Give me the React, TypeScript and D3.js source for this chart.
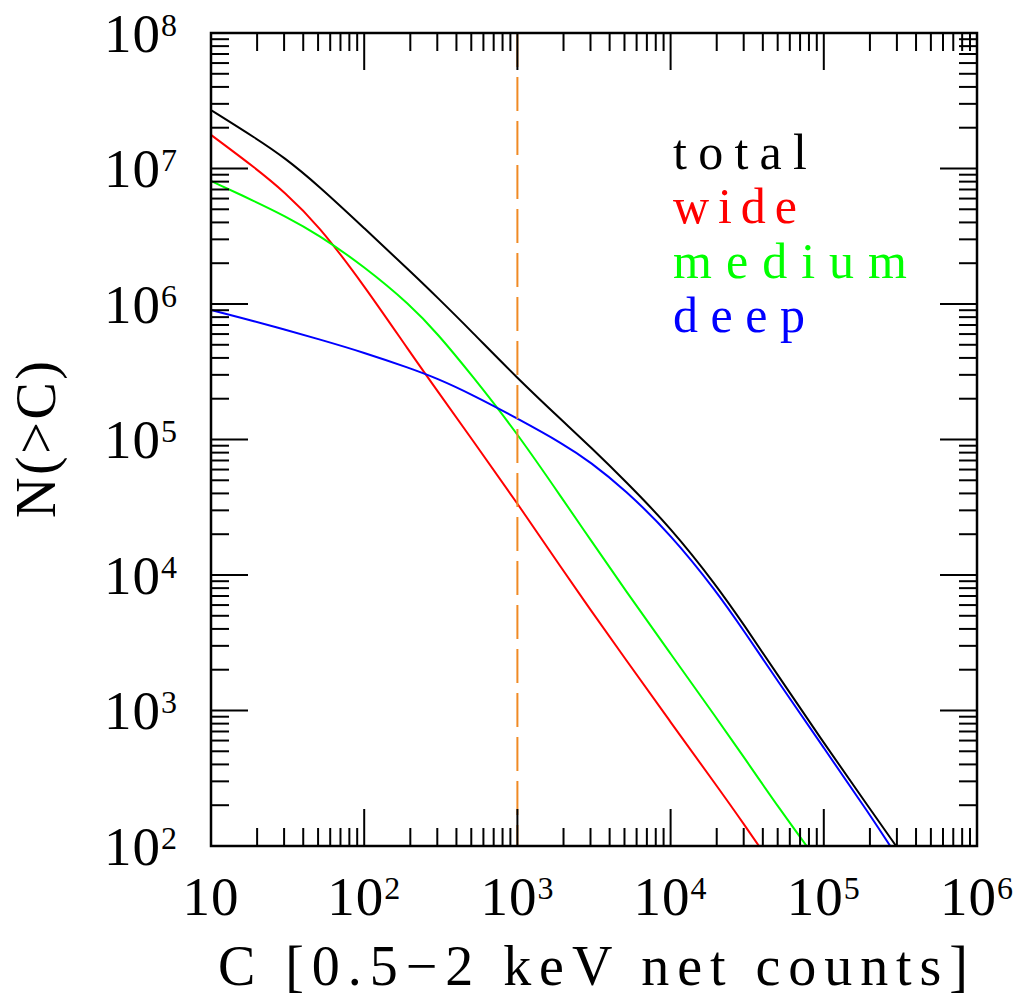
import React from 'react'
import * as d3 from 'd3'

// counts threshold C [0.5-2 keV net counts]
const counts = [10, 20, 30, 50, 100, 200, 300, 500, 1e3, 2e3, 3e3, 5e3, 1e4, 2e4, 3e4, 5e4, 1e5, 2e5, 3e5]

// N(>C)
const total = [2.7e7, 1.65e7, 1.21e7, 7.53e6, 3.63e6, 1.74e6, 1.12e6, 6.31e5, 2.83e5, 1.35e5, 8.81e4, 5.01e4, 2.24e4, 8.32e3, 4.32e3, 1.83e3, 575, 188, 98]
const wide = [1.77e7, 9.86e6, 6.75e6, 3.85e6, 1.37e6, 4.37e5, 2.29e5, 1.02e5, 3.38e4, 1.07e4, 5.52e3, 2.45e3, 820, 278, 146, 63]
const medium = [8.09e6, 5.62e6, 4.49e6, 3.27e6, 1.89e6, 9.84e5, 6.07e5, 3.02e5, 1.11e5, 3.55e4, 1.82e4, 7.89e3, 2.62e3, 875, 455, 196, 67]
const deep = [9.04e5, 7.36e5, 6.5e5, 5.52e5, 4.38e5, 3.35e5, 2.82e5, 2.16e5, 1.43e5, 9.25e4, 6.82e4, 4.29e4, 2.0e4, 7.53e3, 3.89e3, 1.65e3, 530, 170, 84]

const seriesNames = ['total', 'wide', 'medium', 'deep']
const seriesColors = ['#000000', '#ff0000', '#00ff00', '#0000ff']
const seriesValues = [total, wide, medium, deep]
const legendWidths = [134, 124, 234, 132]

const cutCounts = 1000 // dashed vertical marker

const xLabel = 'C [0.5\u22122 keV net counts]'
const yLabel = 'N(>C)'

const FONT = '"Liberation Serif", "Times New Roman", serif'

export default function App() {
  const left = 211
  const right = 977
  const top = 33
  const bottom = 846

  const x = d3.scaleLog().domain([10, 1e6]).range([left, right])
  const y = d3.scaleLog().domain([1e2, 1e8]).range([bottom, top])

  const isMajor = (v: number) => Math.abs(Math.log10(v) - Math.round(Math.log10(v))) < 1e-9

  const xTicks = x.ticks()
  const yTicks = y.ticks()

  const line = d3
    .line<[number, number]>()
    .x((d) => x(d[0]))
    .y((d) => y(d[1]))
    .curve(d3.curveBasis)

  const major = 37
  const minor = 18

  return (
    <svg
      width={1024}
      height={999}
      style={{ position: 'absolute', left: 0, top: 0, background: '#fff' }}
      fontFamily={FONT}
    >
      <defs>
        <clipPath id="plot-area">
          <rect x={left} y={top} width={right - left} height={bottom - top} />
        </clipPath>
      </defs>

      {/* curves */}
      <g clipPath="url(#plot-area)" fill="none" strokeWidth={2}>
        {seriesValues.map((vals, i) => (
          <path
            key={seriesNames[i]}
            d={line(vals.map((v, j) => [counts[j], v] as [number, number])) || ''}
            stroke={seriesColors[i]}
          />
        ))}
        <line
          x1={x(cutCounts)}
          x2={x(cutCounts)}
          y1={top}
          y2={bottom}
          stroke="#f08a24"
          strokeWidth={2}
          strokeDasharray="34,10"
        />
      </g>

      {/* ticks, all four sides, pointing in */}
      <g stroke="#000" strokeWidth={2}>
        {xTicks.map((t) => {
          const len = isMajor(t) ? major : minor
          return (
            <g key={'x' + t}>
              <line x1={x(t)} x2={x(t)} y1={bottom} y2={bottom - len} />
              <line x1={x(t)} x2={x(t)} y1={top} y2={top + len} />
            </g>
          )
        })}
        {yTicks.map((t) => {
          const len = isMajor(t) ? major : minor
          return (
            <g key={'y' + t}>
              <line x1={left} x2={left + len} y1={y(t)} y2={y(t)} />
              <line x1={right} x2={right - len} y1={y(t)} y2={y(t)} />
            </g>
          )
        })}
      </g>

      <rect
        x={left}
        y={top}
        width={right - left}
        height={bottom - top}
        fill="none"
        stroke="#000"
        strokeWidth={2.5}
      />

      {/* x tick labels */}
      {xTicks.filter(isMajor).map((t) => {
        const e = Math.round(Math.log10(t))
        return (
          <text key={'xl' + t} x={x(t)} y={915} textAnchor="middle" fontSize={55} letterSpacing={1}>
            10
            {e !== 1 && (
              <tspan dy={-16} fontSize={32}>
                {e}
              </tspan>
            )}
          </text>
        )
      })}

      {/* y tick labels */}
      {yTicks.filter(isMajor).map((t) => {
        const e = Math.round(Math.log10(t))
        return (
          <text key={'yl' + t} x={178} y={y(t) + 18.5} textAnchor="end" fontSize={55} letterSpacing={1}>
            10
            <tspan dy={-16} fontSize={32}>
              {e}
            </tspan>
          </text>
        )
      })}

      {/* axis titles */}
      <text x={218} y={985} fontSize={56} textLength={750} lengthAdjust="spacing">
        {xLabel}
      </text>
      <text
        transform={`translate(55,${(top + bottom) / 2}) rotate(-90)`}
        textAnchor="middle"
        fontSize={56}
        textLength={157}
        lengthAdjust="spacing"
      >
        {yLabel}
      </text>

      {/* legend */}
      {seriesNames.map((name, i) => (
        <text
          key={'lg' + name}
          x={673}
          y={169 + i * 54.3}
          fill={seriesColors[i]}
          fontSize={50}
          textLength={legendWidths[i]}
          lengthAdjust="spacing"
        >
          {name}
        </text>
      ))}
    </svg>
  )
}
